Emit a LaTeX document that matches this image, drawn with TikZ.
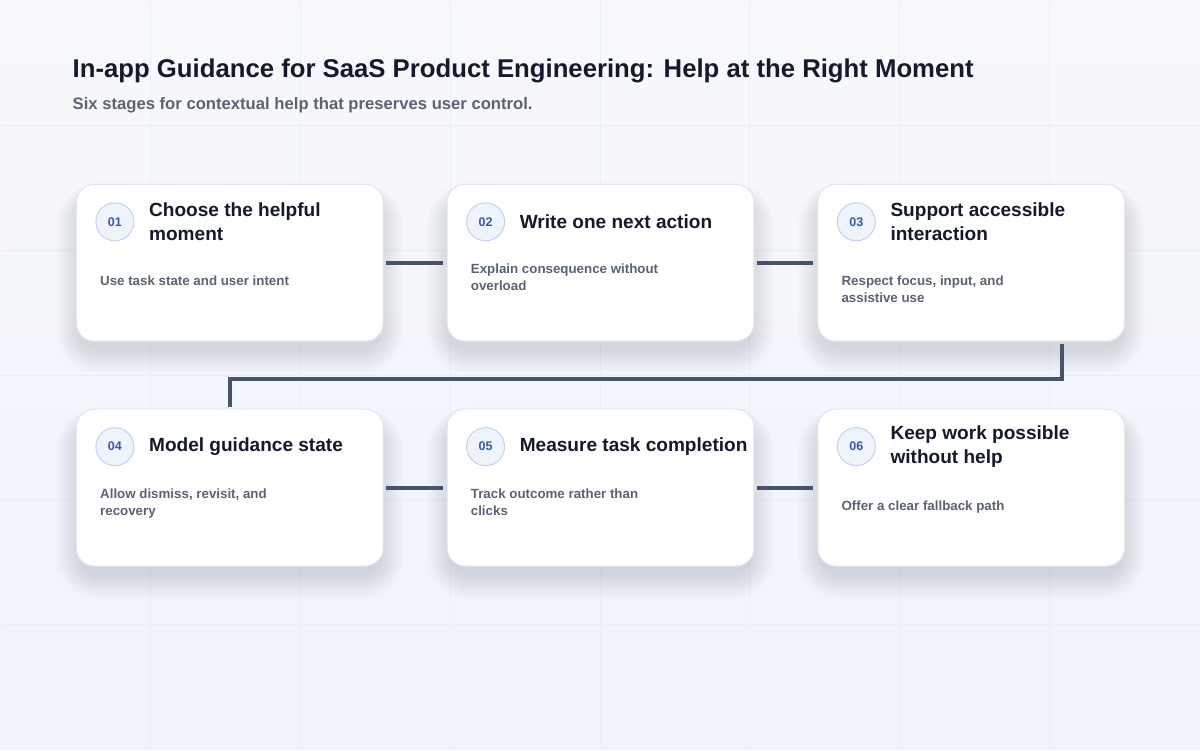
\documentclass[tikz,border=0pt]{standalone}
\usepackage{fontspec}
\setmainfont{Liberation Sans}
\usetikzlibrary{calc}
\definecolor{bgtop}{HTML}{F8F9FC}
\definecolor{bgbottom}{HTML}{EEF3FC}
\definecolor{gridline}{HTML}{EBEEF5}
\definecolor{cardline}{HTML}{E1E6EF}
\definecolor{ink}{HTML}{141A2B}
\definecolor{muted}{HTML}{5A6374}
\definecolor{link}{HTML}{475467}
\definecolor{badgefill}{HTML}{EEF3FC}
\definecolor{badgeline}{HTML}{C3D1EC}
\definecolor{badgeink}{HTML}{3B58A8}
\definecolor{shade}{HTML}{2A3760}
\tikzset{
	every card/.style={
		rectangle,
		draw=cardline,
		line width=0.75pt,
		fill=white,
		rounded corners=13.5pt,
		minimum width=230.25pt,
		minimum height=117.75pt
	},
	card shadow/.style={
		fill=shade,
		fill opacity=0.008,
		draw=none
	},
	badge/.style={
		circle,
		draw=badgeline,
		fill=badgefill,
		line width=0.75pt,
		minimum size=28.5pt,
		inner sep=0pt,
		text=badgeink,
		font=\fontsize{9.4}{10}\selectfont\bfseries
	},
	heading/.style={
		anchor=west,
		align=left,
		inner sep=0pt,
		text=ink,
		font=\fontsize{14.3}{18}\selectfont\bfseries
	},
	blurb/.style={
		anchor=north west,
		align=left,
		inner sep=0pt,
		text=muted,
		font=\fontsize{10}{12.7}\selectfont\bfseries
	},
	link/.style={
		draw=link,
		line width=3pt
	}
}

\begin{document}
\begin{tikzpicture}[x=0.75pt, y=-0.75pt]

% background
\shade[top color=bgtop, bottom color=bgbottom] (0,0) rectangle (1200,750);
\foreach \x in {150,300,...,1050}
	\draw [gridline, line width=0.75pt] (\x,0) -- (\x,750);
\foreach \y in {125,250,...,625}
	\draw [gridline, line width=0.75pt] (0,\y) -- (1200,\y);
\useasboundingbox (0,0) rectangle (1200,750);

\node [anchor=base west, inner sep=0pt, text=ink,
	font=\fontsize{19.3}{22}\selectfont\bfseries] (title) at (72,77)
	{In-app Guidance for SaaS Product Engineering: Help at the Right Moment};
\node [anchor=base west, inner sep=0pt, text=muted,
	font=\fontsize{12.5}{14}\selectfont\bfseries] (subtitle) at (72,109)
	{Six stages for contextual help that preserves user control.};

% stages
\foreach \t/\d/\dy [count=\i] in {
	{Choose the helpful\\moment}/{Use task state and user intent}/100,
	{Write one next action}/{Explain consequence without\\overload}/88,
	{Support accessible\\interaction}/{Respect focus, input, and\\assistive use}/100,
	{Model guidance state}/{Allow dismiss, revisit, and\\recovery}/88,
	{Measure task completion}/{Track outcome rather than\\clicks}/88,
	{Keep work possible\\without help}/{Offer a clear fallback path}/100}
{
	\pgfmathsetmacro{\cx}{229.5+371*mod(\i-1,3)}
	\pgfmathsetmacro{\cy}{262.5+225*int((\i-1)/3)}
	\foreach \k in {1,...,16}
		\fill [card shadow, rounded corners=13.5pt+1.2*\k pt]
			(\cx-150-\k*1.5,\cy-64-\k*1.0) rectangle (\cx+150+\k*1.5,\cy+86+\k*1.6);
	\node [every card] (card-\i) at (\cx,\cy) {};
	\node [badge] (badge-\i) at ($(card-\i.north west)+(39,38)$) {0\i};
	\node [heading] (head-\i) at ($(card-\i.north west)+(73,38)$) {\t};
	\node [blurb] (text-\i) at ($(card-\i.north west)+(24,\dy-8)$) {\d};
}

% connectors
\foreach \i/\j in {1/2,2/3,4/5,5/6}
	\draw [link, shorten <=2pt, shorten >=3pt] (card-\i.east) -- (card-\j.west);

\coordinate (turn) at (1062,379);
\draw [link, shorten <=1.5pt, shorten >=1.5pt]
	(turn |- card-3.south) -- (turn) -- (turn -| card-4.north) -- (card-4.north);

\end{tikzpicture}
\end{document}
